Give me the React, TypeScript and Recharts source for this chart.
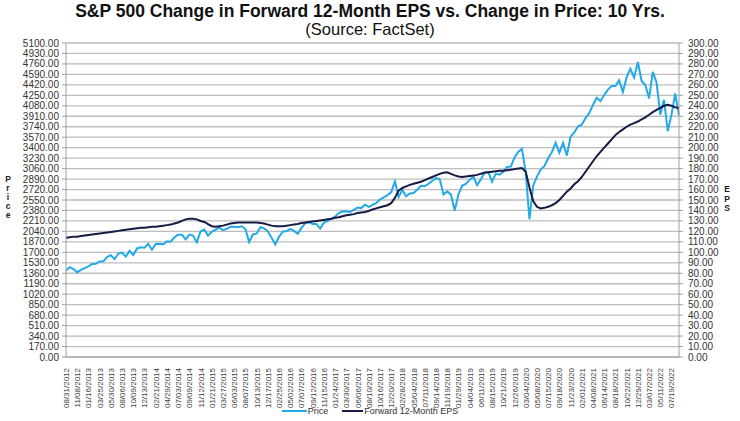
import { LineChart, Line, XAxis, YAxis, CartesianGrid } from 'recharts'

// label dates on the x axis (one every ~45 trading days)
const tickLabels = [
  '08/31/2012', '11/08/2012', '01/16/2013', '03/25/2013', '05/30/2013', '08/06/2013', '10/09/2013',
  '12/13/2013', '02/21/2014', '04/29/2014', '07/03/2014', '09/09/2014', '11/12/2014', '01/21/2015',
  '03/27/2015', '06/03/2015', '08/07/2015', '10/13/2015', '12/17/2015', '02/25/2016', '05/02/2016',
  '07/07/2016', '09/12/2016', '11/15/2016', '01/24/2017', '03/30/2017', '06/06/2017', '08/10/2017',
  '10/16/2017', '12/20/2017', '02/28/2018', '05/04/2018', '07/11/2018', '09/14/2018', '11/19/2018',
  '01/29/2019', '04/04/2019', '06/11/2019', '08/15/2019', '10/21/2019', '12/26/2019', '03/04/2020',
  '05/08/2020', '07/15/2020', '09/18/2020', '11/23/2020', '02/01/2021', '04/08/2021', '06/14/2021',
  '08/18/2021', '10/22/2021', '12/29/2021', '03/07/2022', '05/11/2022', '07/19/2022',
]

// three readings per label interval
const price = [
  1406, 1460, 1428, 1378, 1416, 1443, 1472, 1512, 1516, 1551, 1553, 1625,
  1654, 1588, 1680, 1697, 1630, 1725, 1656, 1763, 1782, 1775, 1837, 1742,
  1836, 1841, 1830, 1878, 1872, 1943, 1985, 1987, 1910, 1988, 1972, 1862,
  2039, 2071, 1972, 2032, 2068, 2101, 2061, 2081, 2116, 2114, 2108, 2124,
  2078, 1867, 1990, 2003, 2109, 2089, 2041, 1938, 1829, 1951, 2040, 2042,
  2081, 2048, 2000, 2097, 2170, 2187, 2159, 2161, 2085, 2180, 2212, 2249,
  2280, 2337, 2363, 2368, 2355, 2391, 2429, 2419, 2473, 2438, 2472, 2500,
  2557, 2591, 2627, 2679, 2850, 2600, 2714, 2610, 2656, 2663, 2721, 2780,
  2775, 2813, 2862, 2905, 2886, 2641, 2690, 2637, 2380, 2640, 2785, 2811,
  2880, 2926, 2790, 2885, 2996, 3003, 2848, 2979, 2962, 3007, 3087, 3093,
  3240, 3330, 3380, 3000, 2237, 2783, 2930, 3044, 3098, 3227, 3327, 3480,
  3319, 3477, 3270, 3578, 3647, 3748, 3774, 3881, 3962, 4097, 4211, 4159,
  4255, 4343, 4402, 4400, 4493, 4307, 4545, 4682, 4538, 4793, 4482, 4418,
  4201, 4631, 4459, 3935, 4177, 3667, 3936, 4280, 3924,
]

const eps = [
  114, 114.5, 115, 115, 115.5, 116, 116.5, 117, 117.5, 118, 118.5, 119,
  119.5, 120, 120.5, 121, 121.5, 122, 122.5, 123, 123.5, 123.5, 124, 124.5,
  124.5, 125, 125.5, 126, 126.5, 127.5, 128.5, 130, 131.5, 132, 132, 131.5,
  130, 129, 127, 125, 124.5, 125, 125.5, 126.5, 127.5, 128, 128.5, 128.5,
  128.5, 128.5, 128.5, 128.5, 128, 127.5, 126.5, 125.5, 125, 125, 125, 125.5,
  126, 126.5, 127, 128, 128.5, 129, 129.5, 130, 130.5, 131, 131.5, 132,
  133, 133.5, 134.5, 135.5, 136, 136.5, 137.5, 138, 138.5, 139.5, 141, 142,
  143, 144, 145, 147, 152, 159, 161.5, 163, 164.5, 165.5, 166.5, 167.5,
  169, 170.5, 172, 173.5, 175, 176, 176.5, 175, 173.5, 172.5, 172, 172.5,
  173, 173.5, 174, 175, 176, 176.5, 177, 177.5, 178, 178, 178.5, 179,
  179.5, 180, 180.5, 177, 162, 149, 143.5, 142, 142.5, 143.5, 145, 147,
  150, 154, 158, 161, 165, 168, 172, 177, 182, 187, 192, 196,
  200, 204, 208, 212, 215, 217.5, 220, 222, 223.5, 225, 227, 229,
  231.5, 234, 236, 238, 240, 241, 240, 238.5, 238,
]

const priceTicks = [
  0, 170, 340, 510, 680, 850, 1020, 1190, 1360, 1530, 1700, 1870, 2040, 2210, 2380, 2550,
  2720, 2890, 3060, 3230, 3400, 3570, 3740, 3910, 4080, 4250, 4420, 4590, 4760, 4930, 5100,
]
const epsTicks = [
  0, 10, 20, 30, 40, 50, 60, 70, 80, 90, 100, 110, 120, 130, 140, 150,
  160, 170, 180, 190, 200, 210, 220, 230, 240, 250, 260, 270, 280, 290, 300,
]

const data = price.map((p, k) => ({ t: k / 3, price: p, eps: eps[k] }))
const xTicks = tickLabels.map((_, i) => i)

const FONT = '"Liberation Sans", Arial, sans-serif'
const PRICE_COLOR = '#22a9e6'
const EPS_COLOR = '#141b45'

function DateTick({ x, y, payload }: any) {
  return (
    <text
      x={x}
      y={y + 3}
      transform={`rotate(-90 ${x} ${y + 3})`}
      textAnchor="end"
      dy={3}
      fontSize={8}
      fill="#404040"
      fontFamily={FONT}
    >
      {tickLabels[payload.value]}
    </text>
  )
}

export default function App() {
  return (
    <div style={{ position: 'absolute', left: 0, top: 0, width: 740, height: 421, background: '#fff', fontFamily: FONT }}>
      <div style={{ position: 'absolute', top: 1, width: 740, textAlign: 'center', fontSize: 17.5, lineHeight: '20px', fontWeight: 'bold', color: '#111' }}>
        S&amp;P 500 Change in Forward 12-Month EPS vs. Change in Price: 10 Yrs.
      </div>
      <div style={{ position: 'absolute', top: 19, width: 740, textAlign: 'center', fontSize: 16.5, lineHeight: '20px', color: '#111' }}>
        (Source: FactSet)
      </div>
      <LineChart width={740} height={421} data={data} margin={{ top: 43, right: 0, left: 0, bottom: 0 }}>
        <CartesianGrid yAxisId="left" vertical={false} stroke="#bdbdbd" strokeWidth={1.3} />
        <XAxis
          dataKey="t"
          type="number"
          domain={[0, 54.67]}
          ticks={xTicks}
          interval={0}
          height={64}
          tickLine={false}
          axisLine={{ stroke: '#a0a0a0' }}
          tick={<DateTick />}
        />
        <YAxis
          yAxisId="left"
          domain={[0, 5100]}
          ticks={priceTicks}
          interval={0}
          width={66}
          tickSize={4}
          tickMargin={3}
          axisLine={{ stroke: '#a0a0a0' }}
          tickLine={{ stroke: '#a0a0a0' }}
          tick={{ fontSize: 10, fill: '#333', fontFamily: FONT }}
          tickFormatter={(v: number) => v.toFixed(2)}
        />
        <YAxis
          yAxisId="right"
          orientation="right"
          domain={[0, 300]}
          ticks={epsTicks}
          interval={0}
          width={61}
          tickSize={4}
          tickMargin={5}
          axisLine={{ stroke: '#a0a0a0' }}
          tickLine={{ stroke: '#a0a0a0' }}
          tick={{ fontSize: 10, fill: '#333', fontFamily: FONT, textAnchor: 'start' }}
          tickFormatter={(v: number) => v.toFixed(2)}
        />
        <Line yAxisId="left" type="linear" dataKey="price" stroke={PRICE_COLOR} strokeWidth={2} dot={false} isAnimationActive={false} />
        <Line yAxisId="right" type="linear" dataKey="eps" stroke={EPS_COLOR} strokeWidth={2} dot={false} isAnimationActive={false} />
      </LineChart>
      <div style={{ position: 'absolute', left: 3, top: 175, width: 10, fontSize: 8.5, fontWeight: 'bold', lineHeight: '9px', textAlign: 'center', color: '#222' }}>
        {'Price'.split('').map((c, i) => (<div key={i}>{c}</div>))}
      </div>
      <div style={{ position: 'absolute', left: 722, top: 185, width: 10, fontSize: 8.5, fontWeight: 'bold', lineHeight: '9.5px', textAlign: 'center', color: '#222' }}>
        {'EPS'.split('').map((c, i) => (<div key={i}>{c}</div>))}
      </div>
      <div style={{ position: 'absolute', top: 406, left: 0, width: 740, display: 'flex', justifyContent: 'center', alignItems: 'center', fontSize: 9, color: '#333', gap: 0 }}>
        <span style={{ display: 'inline-block', width: 25, height: 2, background: PRICE_COLOR, marginRight: 1 }} />
        <span style={{ marginRight: 14 }}>Price</span>
        <span style={{ display: 'inline-block', width: 21, height: 2, background: EPS_COLOR, marginRight: 1 }} />
        <span>Forward 12-Month EPS</span>
      </div>
    </div>
  )
}
